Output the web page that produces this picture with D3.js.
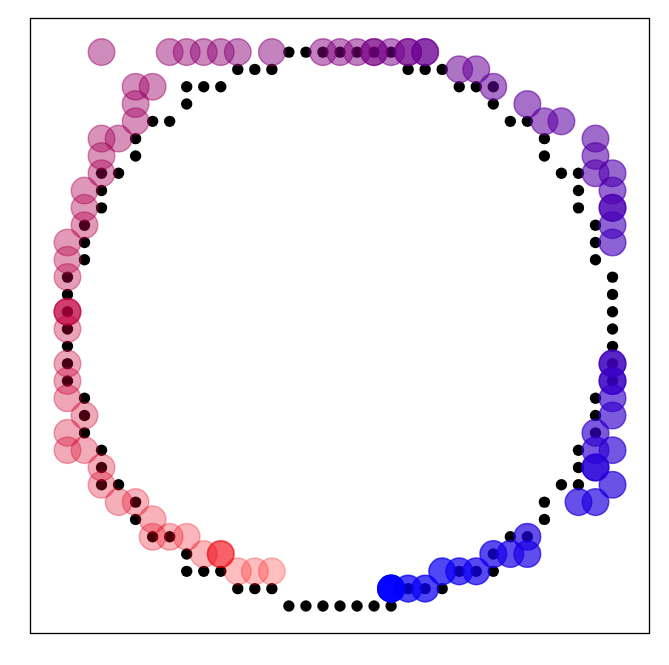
<!DOCTYPE html>
<html>
    <head>
        <meta charset="utf-8">
        <style>
        body {
            margin: 0;
            background: white;
            font-family: "DejaVu Sans", sans-serif;
        }

        .frame {
            fill: none;
            stroke: black;
            stroke-width: 1.3;
        }

        .ring circle {
            fill: black;
        }
        </style>
        <script src="https://d3js.org/d3.v7.min.js"></script>
    </head>
    <body>
        <div class="graph"></div>
        <script type="text/javascript">

            // rasterised circle (grid units, radius 16)
            var ringX = [-3,-2,-1,0,1,2,3, 4,5,6, 7,8,9, 9, 10,11, 12,12, 13,14, 14,14, 15,15,15,
                         16,16,16,16,16,16,16, 15,15,15, 14,14, 14,13, 12,12, 11,10, 9, 9,8,7, 6,5,4,
                         3,2,1,0,-1,-2,-3, -4,-5,-6, -7,-8,-9, -9, -10,-11, -12,-12, -13,-14, -14,-14, -15,-15,-15,
                         -16,-16,-16,-16,-16,-16,-16, -15,-15,-15, -14,-14, -14,-13, -12,-12, -11,-10, -9, -9,-8,-7, -6,-5,-4];
            var ringY = [16,16,16,16,16,16,16, 15,15,15, 14,14,14, 13, 12,12, 11,10, 9,9, 8,7, 6,5,4,
                         3,2,1,0,-1,-2,-3, -4,-5,-6, -7,-8, -9,-9, -10,-11, -12,-12, -13, -14,-14,-14, -15,-15,-15,
                         -16,-16,-16,-16,-16,-16,-16, -15,-15,-15, -14,-14,-14, -13, -12,-12, -11,-10, -9,-9, -8,-7, -6,-5,-4,
                         -3,-2,-1,0,1,2,3, 4,5,6, 7,8, 9,9, 10,11, 12,12, 13, 14,14,14, 15,15,15];

            // tracked positions, in order (red -> blue)
            var trackX = [-4,-5,-6,-7,-7,-7,-8,-9,-10,-11,-11,-12,-13,-14,-14,-15,-16,-16,-15,-16,
                          -16,-16,-16,-16,-16,-16,-16,-16,-16,-15,-15,-15,-14,-14,-14,-13,-12,-12,-12,-11,
                          -14,-10,-9,-8,-7,-6,-4,-1,0,1,2,2,3,4,4,5,5,7,8,9,
                          11,12,13,15,15,15,16,16,16,16,16,16,16,16,16,16,16,16,15,15,
                          16,15,15,16,15,14,11,11,10,9,8,7,6,5,4,3,3,3];
            var trackY = [-14,-14,-14,-13,-13,-13,-13,-12,-12,-12,-11,-10,-10,-9,-8,-7,-7,-6,-5,-4,
                          -3,-2,0,1,1,1,3,4,5,6,7,8,9,10,11,11,12,13,14,14,
                          16,16,16,16,16,16,16,16,16,16,16,16,16,16,16,16,16,15,15,14,
                          13,12,12,11,10,9,9,8,7,7,6,5,-2,-2,-3,-3,-4,-5,-6,-7,
                          -7,-8,-8,-9,-10,-10,-12,-13,-13,-13,-14,-14,-14,-15,-15,-15,-15,-15];

            var width = 669,
                height = 665,
                box = {left: 30, top: 18, right: 650, bottom: 634};

            var x = d3.scaleLinear()
                .domain([-18.2, 18.2])
                .range([box.left, box.right]);

            var y = d3.scaleLinear()
                .domain([-17.62, 17.97])
                .range([box.bottom, box.top]);

            var svg = d3.select(".graph").append("svg")
                .attr("width", width)
                .attr("height", height);

            svg.append("rect")
                .attr("width", width)
                .attr("height", height)
                .attr("fill", "white");

            svg.append("rect")
                .attr("class", "frame")
                .attr("x", box.left + 0.5)
                .attr("y", box.top + 0.5)
                .attr("width", box.right - box.left - 1)
                .attr("height", box.bottom - box.top - 1);

            svg.append("g")
                .attr("class", "ring")
              .selectAll("circle")
                .data(d3.range(ringX.length))
              .enter().append("circle")
                .attr("cx", function(i) { return x(ringX[i]); })
                .attr("cy", function(i) { return y(ringY[i]); })
                .attr("r", 5.7);

            var n = trackX.length;
            var colour = d3.interpolateRgb("red", "blue");

            svg.append("g")
                .attr("class", "track")
              .selectAll("circle")
                .data(d3.range(n))
              .enter().append("circle")
                .attr("cx", function(i) { return x(trackX[i]); })
                .attr("cy", function(i) { return y(trackY[i]); })
                .attr("r", 13.3)
                .attr("fill", function(i) { return colour(i / (n - 1)); })
                .attr("stroke", function(i) { return colour(i / (n - 1)); })
                .attr("stroke-width", 1.5)
                .attr("fill-opacity", function(i) { return 0.25 + 0.5 * i / (n - 1); })
                .attr("stroke-opacity", function(i) { return 0.25 + 0.5 * i / (n - 1); });
        </script>
    </body>
</html>
